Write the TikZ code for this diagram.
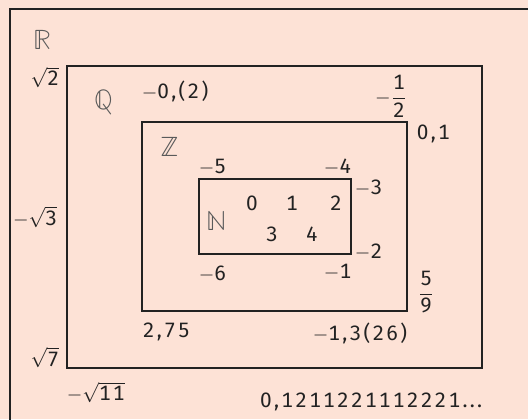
\documentclass[tikz,border=0pt]{standalone}
\usepackage{amsmath}
\usepackage{fontspec}
\setmainfont[Numbers={Lining,Monospaced},LetterSpace=11]{Fira Sans}
\newfontfamily\bbfont{latinmodern-math.otf}
\usepackage{tikz}
\usetikzlibrary{positioning,fit}
\definecolor{paper}{RGB}{253,226,214}
\definecolor{ink}{RGB}{34,34,34}
\definecolor{bbgray}{RGB}{90,90,90}
\newcommand\mn{\ensuremath{-}}

\begin{document}
\begin{tikzpicture}[x=0.5pt, y=-0.5pt, font=\fontsize{10.4}{13}\selectfont,
  setbox/.style={draw=ink, line width=0.55pt, inner sep=0pt},
  lab/.style={inner sep=0pt, text=ink},
  bbset/.style={inner sep=0pt, text=bbgray, font=\fontsize{14}{16}\bbfont}]
  \fill[paper] (0,0) rectangle (528,419);
  \useasboundingbox (0,0) rectangle (528,419);
  \begin{scope}
    \clip (0,0) rectangle (528,419);
    \draw[ink, line width=0.75pt] (10,9) rectangle (540,430);
  \end{scope}
  \node[setbox, fit={(67,66) (482,368)}] (Q) {};
  \node[setbox, fit={(142,122) (407,311)}] (Z) {};
  \node[setbox, fit={(199,179) (351,254)}] (N) {};
  \node[bbset] (Rlab) at (42,40) {ℝ};
  \node[bbset] (Qlab) at (104,102) {ℚ};
  \node[bbset] (Zlab) at (170,147) {ℤ};
  \node[bbset] (Nlab) at (217,221) {ℕ};
  \node[lab, anchor=north east] (sq2) at ([shift={(-7,1)}]Q.north west) {$\sqrt{\mbox{2}}$};
  \node[lab, anchor=east] (msq3) at ([shift={(-9,0)}]Q.west) {$-\sqrt{\mbox{3}}$};
  \node[lab, anchor=south east] (sq7) at ([shift={(-7,0)}]Q.south west) {$\sqrt{\mbox{7}}$};
  \node[lab, anchor=north west] (msq11) at ([shift={(0,13)}]Q.south west) {$-\sqrt{\mbox{11}}$};
  \node[lab, anchor=north east] (irr) at ([shift={(0,24)}]Q.south east) {0,1211221112221...};
  \node[lab, anchor=south west] (per2) at ([shift={(0,-19)}]Z.north west) {\mn0,(2)};
  \node[lab, anchor=south east] (half) at ([shift={(0,-4)}]Z.north east) {$-\dfrac{\mbox{1}}{\mbox{2}}$};
  \node[lab, anchor=north west] (dec1) at ([shift={(9,3)}]Z.north east) {0,1};
  \node[lab, anchor=south west] (nine) at ([shift={(10,2)}]Z.south east) {$\dfrac{\mbox{5}}{\mbox{9}}$};
  \node[lab, anchor=north west] (dec275) at ([shift={(1,11)}]Z.south west) {2,75};
  \node[lab, anchor=north east] (per26) at ([shift={(0,11)}]Z.south east) {\mn1,3(26)};
  \node[lab, anchor=south west] (m5) at ([shift={(0,-3)}]N.north west) {\mn5};
  \node[lab, anchor=south east] (m4) at ([shift={(0,-3)}]N.north east) {\mn4};
  \node[lab, anchor=north west] (m3) at ([shift={(3,1)}]N.north east) {\mn3};
  \node[lab, anchor=west] (m2) at ([shift={(3,-3)}]N.south east) {\mn2};
  \node[lab, anchor=north east] (m1) at ([shift={(0,9)}]N.south east) {\mn1};
  \node[lab, anchor=north west] (m6) at ([shift={(0,11)}]N.south west) {\mn6};
  \foreach \d/\x/\y in {0/252/203,1/292/203,2/336/203,3/272/234,4/312/234}
    \node[lab] (n\d) at (\x,\y) {\d};
\end{tikzpicture}
\end{document}
